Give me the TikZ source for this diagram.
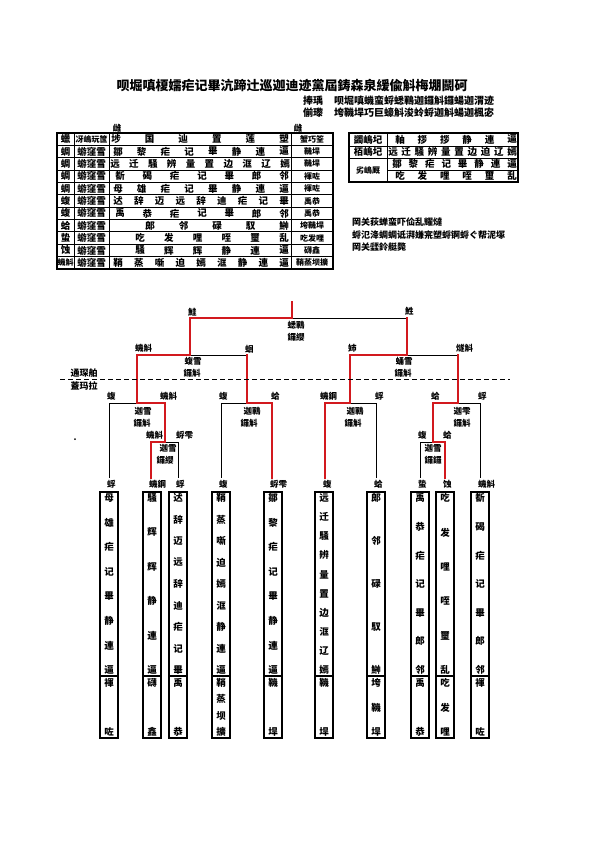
\documentclass[tikz,border=0pt]{standalone}
\usepackage{fontspec}
\newfontfamily\cjk{Noto Sans CJK SC}[BoldFont={Noto Sans CJK SC Black}]
\definecolor{winred}{RGB}{210,25,30}
\tikzset{
  ct/.style={font=\cjk\bfseries\fontsize{9.5}{10}\selectfont, inner sep=0pt, anchor=center},
  cts/.style={font=\cjk\bfseries\fontsize{8}{8}\selectfont, inner sep=0pt, anchor=center},
  lab/.style={font=\cjk\bfseries\fontsize{8.5}{8.5}\selectfont, inner sep=0pt},
  ttl/.style={font=\cjk\bfseries\fontsize{13}{13}\selectfont, inner sep=0pt},
  sub/.style={font=\cjk\bfseries\fontsize{10}{10}\selectfont, inner sep=0pt},
  note/.style={font=\cjk\bfseries\fontsize{9}{9}\selectfont, inner sep=0pt, anchor=west},
  wire/.style={line width=0.9pt, black},
  win/.style={line width=2.4pt, winred, line cap=rect},
  tbl/.style={line width=0.8pt},
  tblout/.style={line width=1.6pt},
  box/.style={draw, line width=1.6pt, minimum width=18pt, minimum height=246pt, inner sep=0pt},
  boxline/.style={line width=1.6pt},
}
% #1 name, #2 y, #3 x1, #4 x2, #5 n, #6 list
\newcommand{\hspread}[6]{%
  \foreach \ch [count=\k] in {#6}{\node[ct] (#1-\k) at ({#3+(#4-(#3))*(\k-1)/(#5-1)},#2) {\ch};}}
% #1 index, #2 x, #3 n upper, #4 upper list, #5 n lower, #6 lower list
\newcommand{\leafbox}[6]{%
  \node[box] (B#1) at (#2,615) {};
  \draw[boxline] (B#1.north west) ++(0,185) -- ++(18,0);
  \foreach \ch [count=\k] in {#4}{\node[ct] (B#1-u\k) at (#2,{498+172*(\k-1)/(#3-1)}) {\ch};}
  \foreach \ch [count=\k] in {#6}{\node[ct] (B#1-l\k) at (#2,{683+49*(\k-1)/(#5-1)}) {\ch};}}
\begin{document}
\begin{tikzpicture}[x=1pt,y=-1pt]
\useasboundingbox (0,0) rectangle (595,842);
\fill[white] (0,0) rectangle (595,842);

% ---------- heading ----------
\node[ttl] (title) at (292,85) {呗堀嗔榎嬬疟记畢沆蹄辻巡迦迪迹黨屆鋳森泉緩偸斛梅堋鬭砢};
\node[sub,anchor=west] (h2a) at (303,101) {捧瑀};
\node[sub,anchor=west] (h2b) at (334,101) {呗堀嗔蟣蛮蛶蟋鶤迦鑼斛鑼蝪迦渭迹};
\node[sub,anchor=west] (h3a) at (303,113) {偂瓈};
\node[sub,anchor=west] (h3b) at (334,113) {垮鞿垾巧巨蠔斛浚蛉蛶迦斛蝪迦楓宓};
\node[lab] (m1) at (117,128) {雌};
\node[lab] (m2) at (298,128) {雌};

% ---------- left table ----------
\foreach \i in {1,...,10}{\draw[tbl] (57,{133+12.36*\i}) -- (333,{133+12.36*\i});}
\draw[tbl] (74,133) -- (74,269);
\draw[tbl] (109,133) -- (109,269);
\draw[tbl] (291,133) -- (291,269);
\draw[tblout] (57,133) rectangle (333,269);
\foreach \c [count=\i] in {蠟,蜩,蜩,蜩,蜩,蝮,蝮,蛤,蛰,蚀}{\node[ct] (c1-\i) at (65.5,{133+12.36*(\i-0.5)}) {\c};}
\node[cts] (c1-11) at (65.5,{133+12.36*10.5}) {蟣斛};
\node[cts] (c2-1) at (91.5,{133+12.36*0.5}) {冴嶋玩筺};
\foreach \i in {2,...,11}{\node[ct] (c2-\i) at (91.5,{133+12.36*(\i-0.5)}) {蝣窪雪};}
\foreach \c [count=\i] in {蟹巧筌,鞿垾,鞿垾,褌咗,褌咗,禹恭,禹恭,垮鞿垾,吃发哩,礴鑫,鞘蒸坝擴}{\node[cts] (c4-\i) at (312,{133+12.36*(\i-0.5)}) {\c};}
\hspread{r1}{139.2}{116}{284}{6}{埗,国,辿,置,莲,塑}
\hspread{r2}{151.5}{118}{284}{8}{鄒,黎,疟,记,畢,静,連,逼}
\hspread{r3}{163.9}{115}{285}{10}{远,迁,騒,辨,量,置,边,洭,辽,嫣}
\hspread{r4}{176.3}{120}{284}{7}{斱,碣,疟,记,畢,郎,邻}
\hspread{r5}{188.6}{118}{284}{8}{母,雄,疟,记,畢,静,連,逼}
\hspread{r6}{201.0}{118}{284}{9}{迖,辞,迈,远,辞,迪,疟,记,畢}
\hspread{r7}{213.4}{120}{284}{7}{禹,恭,疟,记,畢,郎,邻}
\hspread{r8}{225.7}{150}{284}{5}{郞,邻,碌,馭,鰰}
\hspread{r9}{238.1}{140}{284}{6}{吃,发,哩,咥,璽,乱}
\hspread{r10}{250.5}{140}{284}{6}{騒,辉,辉,静,連,逼}
\hspread{r11}{262.8}{118}{284}{9}{鞘,蒸,噺,迫,嫣,洭,静,連,逼}

% ---------- right table ----------
\draw[tbl] (349,146) -- (518,146);
\draw[tbl] (349,158) -- (518,158);
\draw[tbl] (387,170) -- (518,170);
\draw[tbl] (387,133) -- (387,182);
\draw[tblout] (349,133) rectangle (518,182);
\node[ct] (k1) at (368,139.5) {蠲嶋圮};
\node[ct] (k2) at (368,152) {栢嶋圮};
\node[cts] (k3) at (368,170) {劣嶋厩};
\hspread{s1}{139.5}{400}{512}{6}{軸,拶,拶,静,連,逼}
\hspread{s2}{152}{393}{512}{10}{远,迁,騒,辨,量,置,边,迫,辽,嫣}
\hspread{s3}{164}{397}{512}{8}{鄒,黎,疟,记,畢,静,連,逼}
\hspread{s4}{176}{400}{512}{6}{吃,发,哩,咥,璽,乱}

% ---------- notes ----------
\node[note] (n1) at (352,222) {岡关荻蝉蛮吓佡乱耀燵};
\node[note] (n2) at (352,235) {蛶氾洚蜩蜩诋湃嫌宺塑蛶锕蛶ぐ帮泥塚};
\node[note] (n3) at (352,247) {岡关瓥鈴艇斃};

% ---------- bracket coordinates ----------
\coordinate (l1) at (109,478);
\coordinate (l2) at (151,478);
\coordinate (l3) at (178,478);
\coordinate (l4) at (221,478);
\coordinate (l5) at (272,478);
\coordinate (l6) at (325,478);
\coordinate (l7) at (376,478);
\coordinate (l8) at (420,478);
\coordinate (l9) at (445,478);
\coordinate (l10) at (480,478);
\coordinate (r1) at (165,442);
\coordinate (r2) at (433,442);
\coordinate (q1) at (137,403);
\coordinate (q2) at (247,403);
\coordinate (q3) at (350,403);
\coordinate (q4) at (458,403);
\coordinate (sa) at (190,355);
\coordinate (sb) at (407,355);
\coordinate (f) at (292,318);
\coordinate (top) at (292,302);

% black lines
\draw[wire] (l1) |- (q1);
\draw[wire] (l3) |- (r1);
\draw[wire] (l4) |- (q2);
\draw[wire] (l7) |- (q3);
\draw[wire] (l8) |- (r2);
\draw[wire] (l10) |- (q4);
\draw[wire] (sa) -- (q2 |- sa);
\draw[wire] (sb) -- (q4 |- sb);
\draw[wire] (f) -- (sb |- f);
% red winner paths
\draw[win] (l2) |- (r1);
\draw[win] (r1) |- (q1);
\draw[win] (q1) |- (sa);
\draw[win] (sa) |- (f);
\draw[win] (f) -- (top);
\draw[win] (l5) |- (q2);
\draw[win] (q2) -- (q2 |- sa);
\draw[win] (l6) |- (q3);
\draw[win] (q3) |- (sb);
\draw[win] (sb) -- (sb |- f);
\draw[win] (l9) |- (r2);
\draw[win] (r2) |- (q4);
\draw[win] (q4) -- (q4 |- sb);

% dashed divider
\draw[line width=1.2pt, dash pattern=on 5pt off 3pt] (60,379.5) -- (510,379.5);
\node[note,anchor=center] (d1) at (84,373) {通琛舶};
\node[note,anchor=center] (d2) at (84,386) {蓋玛拉};
\node[lab] (dot) at (75,440) {.};

% labels above legs
\node[lab,anchor=south west] (fa) at (188,316) {鮭};
\node[lab,anchor=south west] (fb) at (405,316) {鮏};
\node[lab,anchor=south west] (saa) at (135,353) {蟣斛};
\node[lab,anchor=south west] (sab) at (245,353) {蛔};
\node[lab,anchor=south west] (sba) at (348,353) {姉};
\node[lab,anchor=south west] (sbb) at (456,353) {燧斛};
\node[lab,anchor=south west] (q1a) at (107,401) {蝮};
\node[lab,anchor=south west] (q1b) at (160,401) {蟣斛};
\node[lab,anchor=south west] (q2a) at (219,401) {蝮};
\node[lab,anchor=south west] (q2b) at (271,401) {蛤};
\node[lab,anchor=south west] (q3a) at (320,401) {蟣鋼};
\node[lab,anchor=south west] (q3b) at (375,401) {蜉};
\node[lab,anchor=south west] (q4a) at (431,401) {蛤};
\node[lab,anchor=south west] (q4b) at (478,401) {蜉};
\node[lab,anchor=south west] (r1a) at (146,440) {蟣斛};
\node[lab,anchor=south west] (r1b) at (176,440) {蛶雫};
\node[lab,anchor=south west] (r2a) at (418,440) {蝮};
\node[lab,anchor=south west] (r2b) at (443,440) {蛤};
% match texts
\node[lab] (ft1) at (296,325) {蟋鶤};
\node[lab] (ft2) at (296,337) {鑼纓};
\node[lab] (sat1) at (193,361) {蝮雪};
\node[lab] (sat2) at (192,373) {鑼斛};
\node[lab] (sbt1) at (404,361) {蛹雪};
\node[lab] (sbt2) at (403,373) {鑼斛};
\node[lab] (q1t1) at (143,411) {迦雪};
\node[lab] (q1t2) at (142,423) {鑼斛};
\node[lab] (q2t1) at (252,411) {迦鶤};
\node[lab] (q2t2) at (249,423) {鑼斛};
\node[lab] (q3t1) at (355,411) {迦鶤};
\node[lab] (q3t2) at (353,423) {鑼斛};
\node[lab] (q4t1) at (462,411) {迦雫};
\node[lab] (q4t2) at (462,423) {鑼斛};
\node[lab] (r1t1) at (168,448) {迦雪};
\node[lab] (r1t2) at (165,460) {鑼纓};
\node[lab] (r2t1) at (433,448) {迦雪};
\node[lab] (r2t2) at (433,460) {鑼鑼};
% leaf labels
\foreach \x/\t [count=\i] in {109/蜉,151/蟣鋼,178/蜉,221/蝮,272/蛶雫,325/蝮,376/蛤,420/蛰,445/蚀,480/蟣斛}{
  \node[lab,anchor=west] (ll\i) at (\x-2,484) {\t};}

% ---------- leaf boxes ----------
\leafbox{1}{109}{8}{母,雄,疟,记,畢,静,連,逼}{2}{褌,咗}
\leafbox{2}{152}{6}{騒,辉,辉,静,連,逼}{2}{礴,鑫}
\leafbox{3}{178}{9}{迖,辞,迈,远,辞,迪,疟,记,畢}{2}{禹,恭}
\leafbox{4}{221}{9}{鞘,蒸,噺,迫,嫣,洭,静,連,逼}{4}{鞘,蒸,坝,擴}
\leafbox{5}{273}{8}{鄒,黎,疟,记,畢,静,連,逼}{2}{鞿,垾}
\leafbox{6}{324}{10}{远,迁,騒,辨,量,置,边,洭,辽,嫣}{2}{鞿,垾}
\leafbox{7}{376}{5}{郞,邻,碌,馭,鰰}{3}{垮,鞿,垾}
\leafbox{8}{420}{7}{禹,恭,疟,记,畢,郎,邻}{2}{禹,恭}
\leafbox{9}{445}{6}{吃,发,哩,咥,璽,乱}{3}{吃,发,哩}
\leafbox{10}{480}{7}{斱,碣,疟,记,畢,郎,邻}{2}{褌,咗}
\end{tikzpicture}
\end{document}
